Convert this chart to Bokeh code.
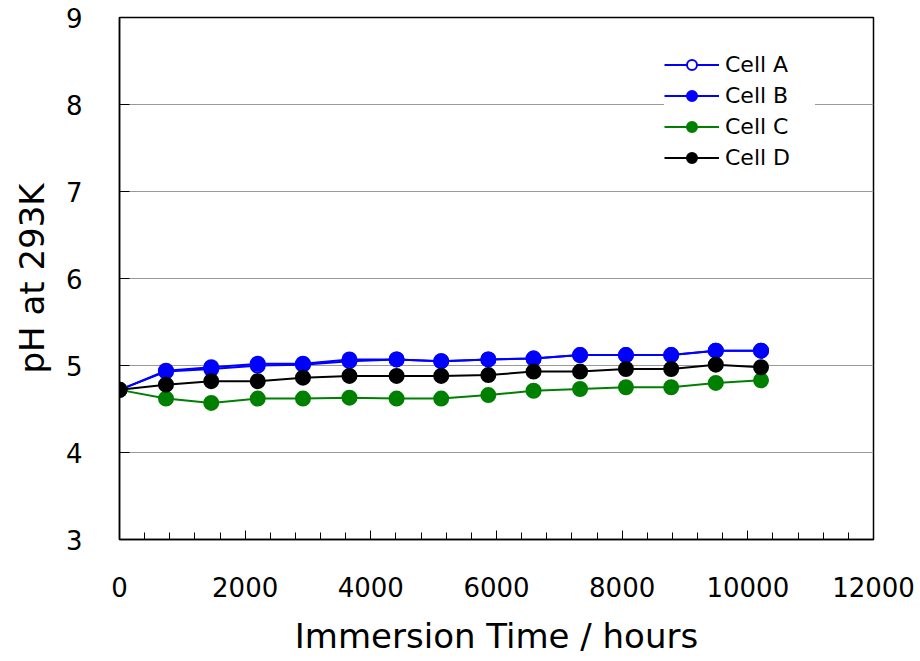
from bokeh.plotting import figure
from bokeh.models import Range1d, FixedTicker, Legend, LegendItem
from bokeh.embed import file_html
from bokeh.resources import INLINE

# ---- data ----
hours = [0, 740, 1460, 2200, 2920, 3660, 4410, 5120, 5870, 6590, 7330, 8060, 8780, 9490, 10210]
cell_a = [4.72, 4.93, 4.96, 5.00, 5.01, 5.05, 5.07, 5.05, 5.07, 5.08, 5.12, 5.12, 5.12, 5.17, 5.17]
cell_b = [4.72, 4.94, 4.98, 5.02, 5.02, 5.07, 5.07, 5.05, 5.07, 5.08, 5.12, 5.12, 5.12, 5.17, 5.17]
cell_c = [4.72, 4.62, 4.57, 4.62, 4.62, 4.63, 4.62, 4.62, 4.66, 4.71, 4.73, 4.75, 4.75, 4.80, 4.83]
cell_d = [4.72, 4.78, 4.82, 4.82, 4.86, 4.88, 4.88, 4.88, 4.89, 4.93, 4.93, 4.96, 4.96, 5.01, 4.98]
series_names = ["Cell A", "Cell B", "Cell C", "Cell D"]
x_major_ticks = [0, 2000, 4000, 6000, 8000, 10000, 12000]
x_minor_ticks = list(range(0, 12001, 400))
y_ticks = [3, 4, 5, 6, 7, 8, 9]
x_label = "Immersion Time / hours"
y_label = "pH at 293K"

FONT = "DejaVu Sans"

p = figure(width=920, height=661, output_backend="svg", toolbar_location=None,
           x_range=Range1d(0, 12000), y_range=Range1d(3, 9),
           min_border_left=119, min_border_right=47, min_border_top=17, min_border_bottom=122)
p.background_fill_color = "white"
p.border_fill_color = "white"
p.outline_line_color = "black"
p.outline_line_width = 1.5

# axes
p.xaxis.ticker = FixedTicker(ticks=x_major_ticks, minor_ticks=x_minor_ticks)
p.yaxis.ticker = FixedTicker(ticks=y_ticks, minor_ticks=[])
for ax in (p.xaxis, p.yaxis):
    ax.axis_line_color = "black"
    ax.axis_line_width = 1.5
    ax.major_tick_line_color = "black"
    ax.minor_tick_line_color = "black"
    ax.major_tick_out = 0
    ax.minor_tick_out = 0
    ax.major_label_text_font = FONT
    ax.major_label_text_font_size = "26px"
    ax.major_label_text_color = "black"
    ax.axis_label_text_font = FONT
    ax.axis_label_text_font_size = "34px"
    ax.axis_label_text_font_style = "normal"
    ax.axis_label_text_color = "black"
p.xaxis.major_tick_in = 9
p.xaxis.minor_tick_in = 7
p.yaxis.major_tick_in = 10
p.yaxis.minor_tick_in = 0
p.xaxis.major_label_standoff = 37
p.yaxis.major_label_standoff = 37
p.xaxis.axis_label = x_label
p.yaxis.axis_label = y_label
p.xaxis.axis_label_standoff = 16
p.yaxis.axis_label_standoff = 11

p.xgrid.grid_line_color = None
p.ygrid.grid_line_color = "#999999"
p.ygrid.grid_line_width = 1

colors = ["#0000ff", "#0000ff", "#008000", "#000000"]
fills = ["white", "#0000ff", "#008000", "#000000"]
values = [cell_a, cell_b, cell_c, cell_d]
items = []
for name, vals, col, fc in zip(series_names, values, colors, fills):
    r_line = p.line(hours, vals, line_color=col, line_width=2)
    r_pt = p.scatter(hours, vals, marker="circle", size=14, line_color=col, fill_color=fc, line_width=2)
    items.append(LegendItem(label=name, renderers=[r_line, r_pt]))

legend = Legend(items=items, location=(545, 369))
legend.label_text_font = FONT
legend.label_text_font_size = "22px"
legend.label_text_color = "black"
legend.glyph_width = 55
legend.glyph_height = 25
legend.label_height = 25
legend.label_width = 90
legend.spacing = 6
legend.padding = 16
legend.label_standoff = 6
legend.border_line_color = None
legend.background_fill_color = "white"
legend.background_fill_alpha = 1.0
p.add_layout(legend, "center")

open("out.html", "w").write(file_html(p, INLINE))
